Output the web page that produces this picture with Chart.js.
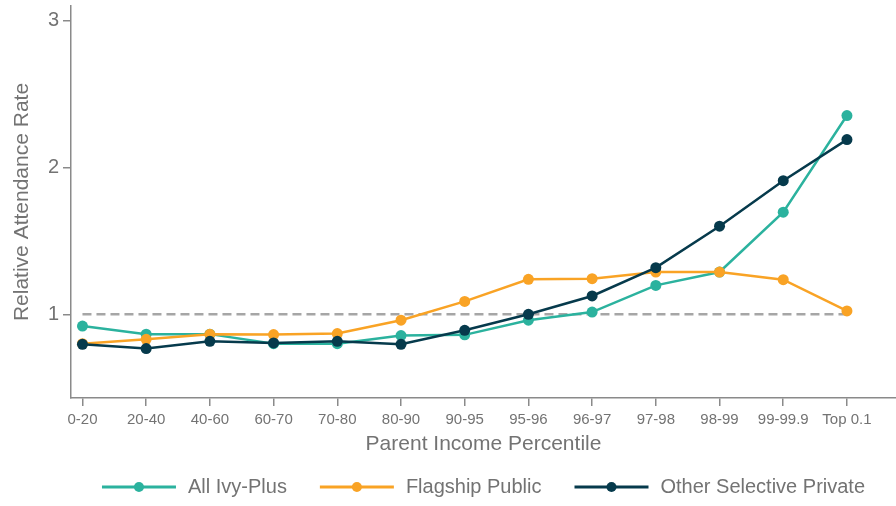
<!DOCTYPE html>
<html>
<head>
<meta charset="utf-8">
<script src="https://cdn.jsdelivr.net/npm/chart.js@4.4.1/dist/chart.umd.min.js"></script>
<style>
  html, body { margin: 0; padding: 0; background: #fff; }
  #wrap { width: 896px; height: 506px; }
</style>
</head>
<body>
<div id="wrap"><canvas id="chart"></canvas></div>
<script>
const percentiles = ['0-20', '20-40', '40-60', '60-70', '70-80', '80-90', '90-95', '95-96', '96-97', '97-98', '98-99', '99-99.9', 'Top 0.1'];
const ivyPlus = [0.92, 0.865, 0.865, 0.80, 0.80, 0.855, 0.86, 0.96, 1.015, 1.197, 1.288, 1.696, 2.354];
const flagshipPublic = [0.80, 0.83, 0.864, 0.862, 0.869, 0.96, 1.088, 1.238, 1.243, 1.288, 1.288, 1.236, 1.023];
const otherPrivate = [0.796, 0.767, 0.816, 0.805, 0.816, 0.796, 0.891, 1.0, 1.125, 1.318, 1.60, 1.91, 2.19];
const referenceLevel = [1, 1, 1, 1, 1, 1, 1, 1, 1, 1, 1, 1, 1];
const yTicks = [1, 2, 3];

const seriesNames = ['All Ivy-Plus', 'Flagship Public', 'Other Selective Private'];
const seriesColors = ['#2bb29e', '#f9a325', '#063a4c'];

const textColor = '#737373';
const axisColor = '#8a8a8a';
const fontFamily = '"Liberation Sans", Arial, sans-serif';

const toPoints = (values) => values.map((y, i) => ({ x: i, y: y }));

function seriesDataset(idx, values, order) {
    return {
        label: seriesNames[idx],
        data: toPoints(values),
        borderColor: seriesColors[idx],
        backgroundColor: seriesColors[idx],
        borderWidth: 2.5,
        pointRadius: 5.5,
        pointBorderWidth: 0,
        pointBackgroundColor: seriesColors[idx],
        tension: 0,
        order: order
    };
}

// legend drawn as line + dot, like the original
const lineLegend = {
    id: 'lineLegend',
    afterDraw(chart) {
        const ctx = chart.ctx;
        const area = chart.chartArea;
        const lineLen = 74, gap = 12, spacing = 33;
        ctx.save();
        ctx.font = '20px ' + fontFamily;
        const widths = seriesNames.map(n => ctx.measureText(n).width);
        const total = widths.reduce((a, w) => a + lineLen + gap + w, 0) + spacing * (seriesNames.length - 1);
        let x = (area.left + area.right) / 2 - total / 2;
        const y = chart.height - 19;
        seriesNames.forEach((name, i) => {
            ctx.strokeStyle = seriesColors[i];
            ctx.lineWidth = 3;
            ctx.beginPath();
            ctx.moveTo(x, y);
            ctx.lineTo(x + lineLen, y);
            ctx.stroke();
            ctx.fillStyle = seriesColors[i];
            ctx.beginPath();
            ctx.arc(x + lineLen / 2, y, 5, 0, Math.PI * 2);
            ctx.fill();
            ctx.fillStyle = textColor;
            ctx.textBaseline = 'middle';
            ctx.textAlign = 'left';
            ctx.fillText(name, x + lineLen + gap, y);
            x += lineLen + gap + widths[i] + spacing;
        });
        ctx.restore();
    }
};

new Chart(document.getElementById('chart').getContext('2d'), {
    type: 'line',
    data: {
        datasets: [
            seriesDataset(0, ivyPlus, 3),
            seriesDataset(1, flagshipPublic, 2),
            seriesDataset(2, otherPrivate, 1),
            {
                label: 'reference',
                data: toPoints(referenceLevel),
                borderColor: '#a6a6a6',
                borderWidth: 2.5,
                borderDash: [9, 5],
                pointRadius: 0,
                order: 4
            }
        ]
    },
    options: {
        responsive: true,
        maintainAspectRatio: false,
        animation: false,
        layout: { autoPadding: false, padding: { top: 6, right: 0, bottom: 40, left: 0 } },
        plugins: {
            legend: { display: false },
            tooltip: { enabled: false }
        },
        scales: {
            x: {
                type: 'linear',
                min: -0.18,
                max: 12.77,
                afterBuildTicks: (scale) => {
                    scale.ticks = percentiles.map((_, i) => ({ value: i }));
                },
                afterFit: (scale) => {
                    scale.height = 68;
                    scale.paddingLeft = 0;
                    scale.paddingRight = 0;
                },
                border: { color: axisColor, width: 1.5 },
                grid: { drawOnChartArea: false, drawTicks: true, tickLength: 8, color: axisColor, lineWidth: 1.5 },
                ticks: {
                    autoSkip: false,
                    maxRotation: 0,
                    padding: 5,
                    color: textColor,
                    font: { family: fontFamily, size: 15 },
                    callback: (v) => percentiles[v]
                },
                title: {
                    display: true,
                    text: 'Parent Income Percentile',
                    color: textColor,
                    font: { family: fontFamily, size: 21 },
                    padding: { top: 4, bottom: 9 }
                }
            },
            y: {
                min: 0.43,
                max: 3.1,
                afterBuildTicks: (scale) => {
                    scale.ticks = yTicks.map(v => ({ value: v }));
                },
                afterFit: (scale) => {
                    scale.width = 71;
                    scale.paddingTop = 0;
                    scale.paddingBottom = 0;
                },
                border: { color: axisColor, width: 1.5 },
                grid: { drawOnChartArea: false, drawTicks: true, tickLength: 8, color: axisColor, lineWidth: 1.5 },
                ticks: {
                    padding: 4,
                    color: textColor,
                    font: { family: fontFamily, size: 20 }
                },
                title: {
                    display: true,
                    text: 'Relative Attendance Rate',
                    color: textColor,
                    font: { family: fontFamily, size: 21 },
                    padding: { top: 10, bottom: 0 }
                }
            }
        }
    },
    plugins: [lineLegend]
});
</script>
</body>
</html>
